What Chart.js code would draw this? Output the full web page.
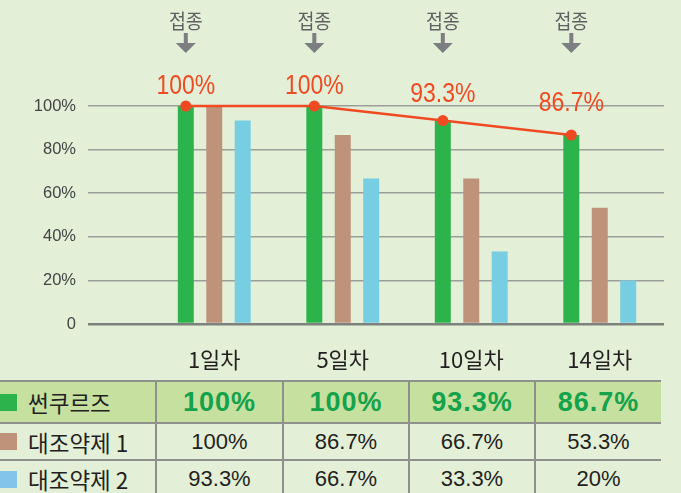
<!DOCTYPE html>
<html><head><meta charset="utf-8">
<script src="https://cdn.jsdelivr.net/npm/chart.js@4/dist/chart.umd.min.js"></script>
<style>
html,body{margin:0;padding:0;background:#e3efd7;width:681px;height:493px;overflow:hidden;}
#wrap{position:relative;width:681px;height:493px;background:#e3efd7;}
#c{position:absolute;left:0;top:0;}
table{position:absolute;left:0;top:380px;border-collapse:collapse;table-layout:fixed;width:661px;}
td{padding:0;text-align:center;color:#231f20;font-family:"Liberation Sans",Arial,sans-serif;font-size:22px;
   border-left:2px solid #8e908c;border-top:2px solid #8e908c;white-space:nowrap;}
td.first{border-left:none;text-align:left;}
tr.hl td{background:#c6e0a0;color:#14a24b;font-weight:bold;font-size:27px;letter-spacing:1px;}
.cell{display:flex;align-items:center;}
.sw{display:inline-block;width:17px;height:17px;margin-right:11px;}
.nm{font-family:"Noto Sans CJK KR",sans-serif;font-size:22.5px;color:#231f20;font-weight:normal;letter-spacing:0;}
</style></head><body>
<div id="wrap">
<canvas id="c" width="681" height="380"></canvas>
<table id="t"><colgroup><col style="width:156px"><col style="width:127px"><col style="width:126px"><col style="width:126px"><col style="width:126px"></colgroup><tbody id="tb"></tbody></table>
</div>
<script>
// ---- data ----
const categories = ['1일차', '5일차', '10일차', '14일차'];
const seriesNames = ['썬쿠르즈', '대조약제 1', '대조약제 2'];
const sunValues = [100, 100, 93.3, 86.7];
const ctrl1Values = [100, 86.7, 66.7, 53.3];
const ctrl2Values = [93.3, 66.7, 33.3, 20];
const yTicks = [0, 20, 40, 60, 80, 100];
const markerText = '접종';

// ---- styles ----
const GREEN = '#2db34b', BROWN = '#be937a', BLUE = '#77cee2', RED = '#f04a23';
const CAT_PCT = 0.664, BAR_PCT = 0.562;
const fmt = v => v + '%';

// line points sit on top of the green (first) bars of each group
const alignLine = {
  id: 'alignLine',
  afterDatasetsUpdate(chart) {
    const bars = chart.getDatasetMeta(0).data;
    const pts = chart.getDatasetMeta(3).data;
    pts.forEach((p, i) => { if (bars[i]) p.x = bars[i].x; });
  }
};

const overlay = {
  id: 'overlay',
  afterDatasetsDraw(chart) {
    const ctx = chart.ctx;
    const bars = chart.getDatasetMeta(0).data;
    const pts = chart.getDatasetMeta(3).data;
    const top = chart.chartArea.top;
    ctx.save();
    bars.forEach(b => {
      const x = b.x;
      ctx.save();
      ctx.translate(x, 21);
      ctx.scale(0.92, 1);
      ctx.font = '20px "Noto Sans CJK KR"';
      ctx.fillStyle = '#5f6062';
      ctx.textAlign = 'center';
      ctx.textBaseline = 'middle';
      ctx.fillText(markerText, 0, 0);
      ctx.restore();
      ctx.fillStyle = '#7d7e81';
      ctx.fillRect(x - 2, 33, 4, 11);
      ctx.beginPath();
      ctx.moveTo(x - 10, 43); ctx.lineTo(x + 10, 43); ctx.lineTo(x, 53);
      ctx.closePath(); ctx.fill();
    });
    pts.forEach((p, i) => {
      const y = top - 20 + 0.6 * (p.y - top);
      ctx.save();
      ctx.translate(p.x, y);
      ctx.scale(0.82, 1);
      ctx.font = '28px "Liberation Sans"';
      ctx.fillStyle = RED;
      ctx.textAlign = 'center';
      ctx.textBaseline = 'middle';
      ctx.fillText(fmt(sunValues[i]), 0, 0);
      ctx.restore();
    });
    ctx.restore();
  }
};

new Chart(document.getElementById('c'), {
  type: 'bar',
  data: {
    labels: categories,
    datasets: [
      { label: seriesNames[0], data: sunValues, backgroundColor: GREEN, order: 1 },
      { label: seriesNames[1], data: ctrl1Values, backgroundColor: BROWN, order: 1 },
      { label: seriesNames[2], data: ctrl2Values, backgroundColor: BLUE, order: 1 },
      { type: 'line', label: seriesNames[0], data: sunValues,
        borderColor: RED, backgroundColor: RED, borderWidth: 2.5, tension: 0,
        pointRadius: 5.5, pointHoverRadius: 5.5, pointBorderWidth: 0, order: 0, clip: false }
    ]
  },
  options: {
    responsive: false,
    devicePixelRatio: 1,
    animation: false,
    events: [],
    datasets: { bar: { categoryPercentage: CAT_PCT, barPercentage: BAR_PCT } },
    layout: { padding: { top: 106, right: 17, left: 0, bottom: 0 } },
    plugins: { legend: { display: false }, tooltip: { enabled: false } },
    scales: {
      x: {
        type: 'category', offset: true,
        grid: { display: false, drawTicks: false },
        border: { display: false },
        ticks: { color: '#231f20', font: { family: '"Noto Sans CJK KR"', size: 22 }, padding: 22 },
        afterFit: s => { s.height = 56; }
      },
      y: {
        min: 0, max: 100,
        afterBuildTicks: s => { s.ticks = yTicks.map(v => ({ value: v })); },
        ticks: { color: '#444', font: { family: '"Liberation Sans Narrow", "Liberation Sans"', size: 16.5 }, padding: 12,
                 callback: v => v === 0 ? '0' : v + '%' },
        grid: {
          color: c => (c.tick && c.tick.value === 0) ? '#7f817e' : '#9c9f99',
          lineWidth: c => (c.tick && c.tick.value === 0) ? 2.5 : 1.5,
          tickLength: 62, drawTicks: true
        },
        border: { display: false },
        afterFit: s => { s.width = 150; }
      }
    }
  },
  plugins: [alignLine, overlay]
});

// ---- table ----
const rows = [
  { name: seriesNames[0], vals: sunValues, sw: GREEN, cls: 'hl', h: 42 },
  { name: seriesNames[1], vals: ctrl1Values, sw: BROWN, cls: '', h: 37 },
  { name: seriesNames[2], vals: ctrl2Values, sw: '#82c4ea', cls: '', h: 37 }
];
const tb = document.getElementById('tb');
rows.forEach(r => {
  const tr = document.createElement('tr');
  if (r.cls) tr.className = r.cls;
  tr.style.height = r.h + 'px';
  const td0 = document.createElement('td');
  td0.className = 'first';
  td0.innerHTML = '<div class="cell"><span class="sw" style="background:' + r.sw + '"></span><span class="nm">' + r.name + '</span></div>';
  tr.appendChild(td0);
  r.vals.forEach(v => {
    const td = document.createElement('td');
    td.textContent = fmt(v);
    tr.appendChild(td);
  });
  tb.appendChild(tr);
});
</script>
</body></html>
